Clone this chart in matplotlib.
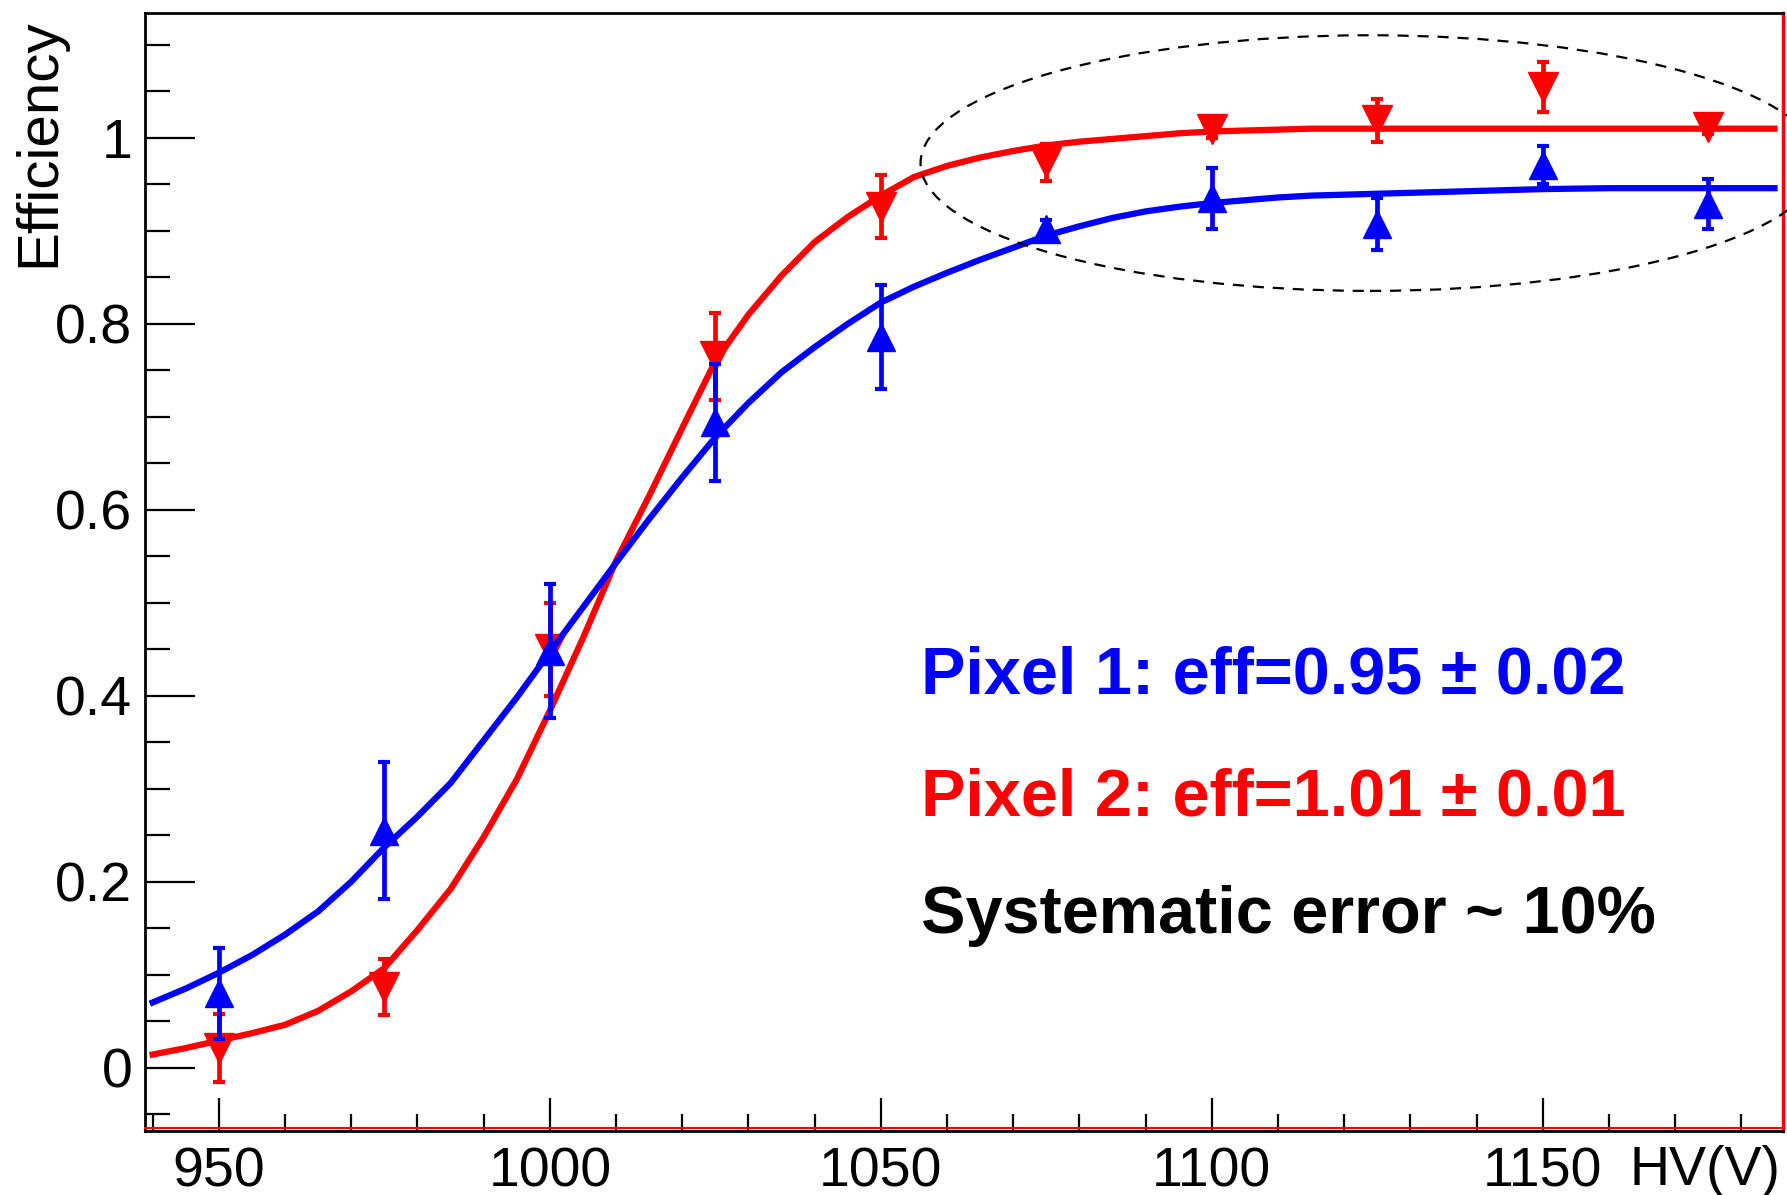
import matplotlib
matplotlib.use("Agg")
import matplotlib.pyplot as plt
from matplotlib.patches import Ellipse
from matplotlib.ticker import MultipleLocator, FixedLocator, FixedFormatter
from matplotlib.lines import Line2D

# ---- data ----
hv = [950, 975, 1000, 1025, 1050, 1075, 1100, 1125, 1150, 1175]

eff_pix1 = [0.080, 0.255, 0.448, 0.694, 0.786, 0.902, 0.935, 0.907, 0.971, 0.929]
err_pix1 = [0.049, 0.074, 0.072, 0.063, 0.056, 0.010, 0.033, 0.028, 0.020, 0.027]

eff_pix2 = [0.021, 0.087, 0.450, 0.765, 0.926, 0.974, 1.010, 1.019, 1.055, 1.012]
err_pix2 = [0.037, 0.030, 0.050, 0.047, 0.034, 0.020, 0.010, 0.023, 0.027, 0.008]

# fitted curves
fit_x = [940, 945, 950, 955, 960, 965, 970, 975, 980, 985, 990, 995, 1000,
         1005, 1010, 1015, 1020, 1025, 1030, 1035, 1040, 1045, 1050, 1055,
         1060, 1065, 1070, 1075, 1080, 1085, 1090, 1095, 1100, 1105, 1110,
         1115, 1120, 1130, 1140, 1150, 1160, 1185]
fit1_y = [0.070, 0.085, 0.102, 0.121, 0.143, 0.168, 0.200, 0.237, 0.270,
          0.306, 0.352, 0.398, 0.447, 0.495, 0.543, 0.590, 0.635, 0.678,
          0.715, 0.748, 0.775, 0.800, 0.823, 0.840, 0.855, 0.869, 0.882,
          0.895, 0.905, 0.914, 0.921, 0.926, 0.930, 0.933, 0.936, 0.938,
          0.939, 0.941, 0.943, 0.945, 0.946, 0.946]
fit2_y = [0.014, 0.021, 0.029, 0.037, 0.046, 0.061, 0.082, 0.107, 0.148,
          0.192, 0.248, 0.310, 0.384, 0.462, 0.545, 0.615, 0.688, 0.760,
          0.810, 0.852, 0.888, 0.915, 0.938, 0.958, 0.970, 0.979, 0.986,
          0.992, 0.996, 0.999, 1.002, 1.005, 1.007, 1.008, 1.009, 1.010,
          1.010, 1.010, 1.010, 1.010, 1.010, 1.010]

ytick_vals = [0, 0.2, 0.4, 0.6, 0.8, 1.0]
ytick_labels = ["0", "0.2", "0.4", "0.6", "0.8", "1"]
xtick_vals = [950, 1000, 1050, 1100, 1150]
xtick_labels = ["950", "1000", "1050", "1100", "1150"]

label1 = "Pixel 1: eff=0.95 \u00b1 0.02"
label2 = "Pixel 2: eff=1.01 \u00b1 0.01"
label3 = "Systematic error ~ 10%"

BLUE = "#0000ff"
RED = "#ff0000"

plt.rcParams['font.family'] = ['Liberation Sans', 'DejaVu Sans']

fig = plt.figure(figsize=(17.87, 11.95), dpi=100)
ax = fig.add_axes([0.081, 0.0536, 0.9168, 0.9358])

ax.set_xlim(938.8, 1186.3)
ax.set_ylim(-0.0682, 1.1348)

# fit curves (red first, blue on top)
ax.plot(fit_x, fit2_y, color=RED, lw=4.5, zorder=3, solid_joinstyle='round')
ax.errorbar(hv, eff_pix2, yerr=err_pix2, fmt='v', color=RED, ms=22,
            elinewidth=3.4, capsize=4, capthick=3, zorder=4)
ax.plot(fit_x, fit1_y, color=BLUE, lw=4.5, zorder=5, solid_joinstyle='round')
ax.errorbar(hv, eff_pix1, yerr=err_pix1, fmt='^', color=BLUE, ms=20,
            elinewidth=3.4, capsize=4, capthick=3, zorder=6)

# dashed ellipse
ell = Ellipse((1123.9, 0.973), width=135.8, height=0.275, fill=False,
              edgecolor='black', lw=1.6, linestyle=(0, (5, 4)), clip_on=False,
              zorder=7)
ax.add_patch(ell)

# text annotations
ax.text(1056.1, 0.4025, label1, color=BLUE, fontsize=48, fontweight='bold',
        ha='left', va='baseline', zorder=8)
ax.text(1056.1, 0.271, label2, color=RED, fontsize=48, fontweight='bold',
        ha='left', va='baseline', zorder=8)
ax.text(1056.1, 0.145, label3, color='black', fontsize=48, fontweight='bold',
        ha='left', va='baseline', zorder=8)

# ticks
ax.xaxis.set_major_locator(FixedLocator(xtick_vals))
ax.xaxis.set_major_formatter(FixedFormatter(xtick_labels))
ax.xaxis.set_minor_locator(MultipleLocator(10))
ax.yaxis.set_major_locator(FixedLocator(ytick_vals))
ax.yaxis.set_major_formatter(FixedFormatter(ytick_labels))
ax.yaxis.set_minor_locator(MultipleLocator(0.05))

ax.tick_params(axis='x', which='major', direction='in', length=24, width=1.6,
               labelsize=40, pad=11, top=False)
ax.tick_params(axis='x', which='minor', direction='in', length=12, width=1.6,
               top=False)
ax.tick_params(axis='y', which='major', direction='in', length=36, width=1.6,
               labelsize=40, pad=9, right=False)
ax.tick_params(axis='y', which='minor', direction='in', length=18, width=1.6,
               right=False)

for s in ['left', 'top', 'bottom']:
    ax.spines[s].set_linewidth(2.0)
    ax.spines[s].set_color('black')
ax.spines['right'].set_linewidth(2.5)
ax.spines['right'].set_color(RED)

# thin red line along the bottom of the frame
ax.add_line(Line2D([0, 1], [0.003, 0.003], transform=ax.transAxes, color=RED,
                   lw=1.5, clip_on=False, zorder=9))

# axis titles
fig.text(0.0222, 0.985, "Efficiency", rotation=90, ha='center', va='top',
         fontsize=42)
fig.text(0.9966, 0.0085, "HV(V)", ha='right', va='baseline', fontsize=40)

fig.savefig("out.png", dpi=100)
